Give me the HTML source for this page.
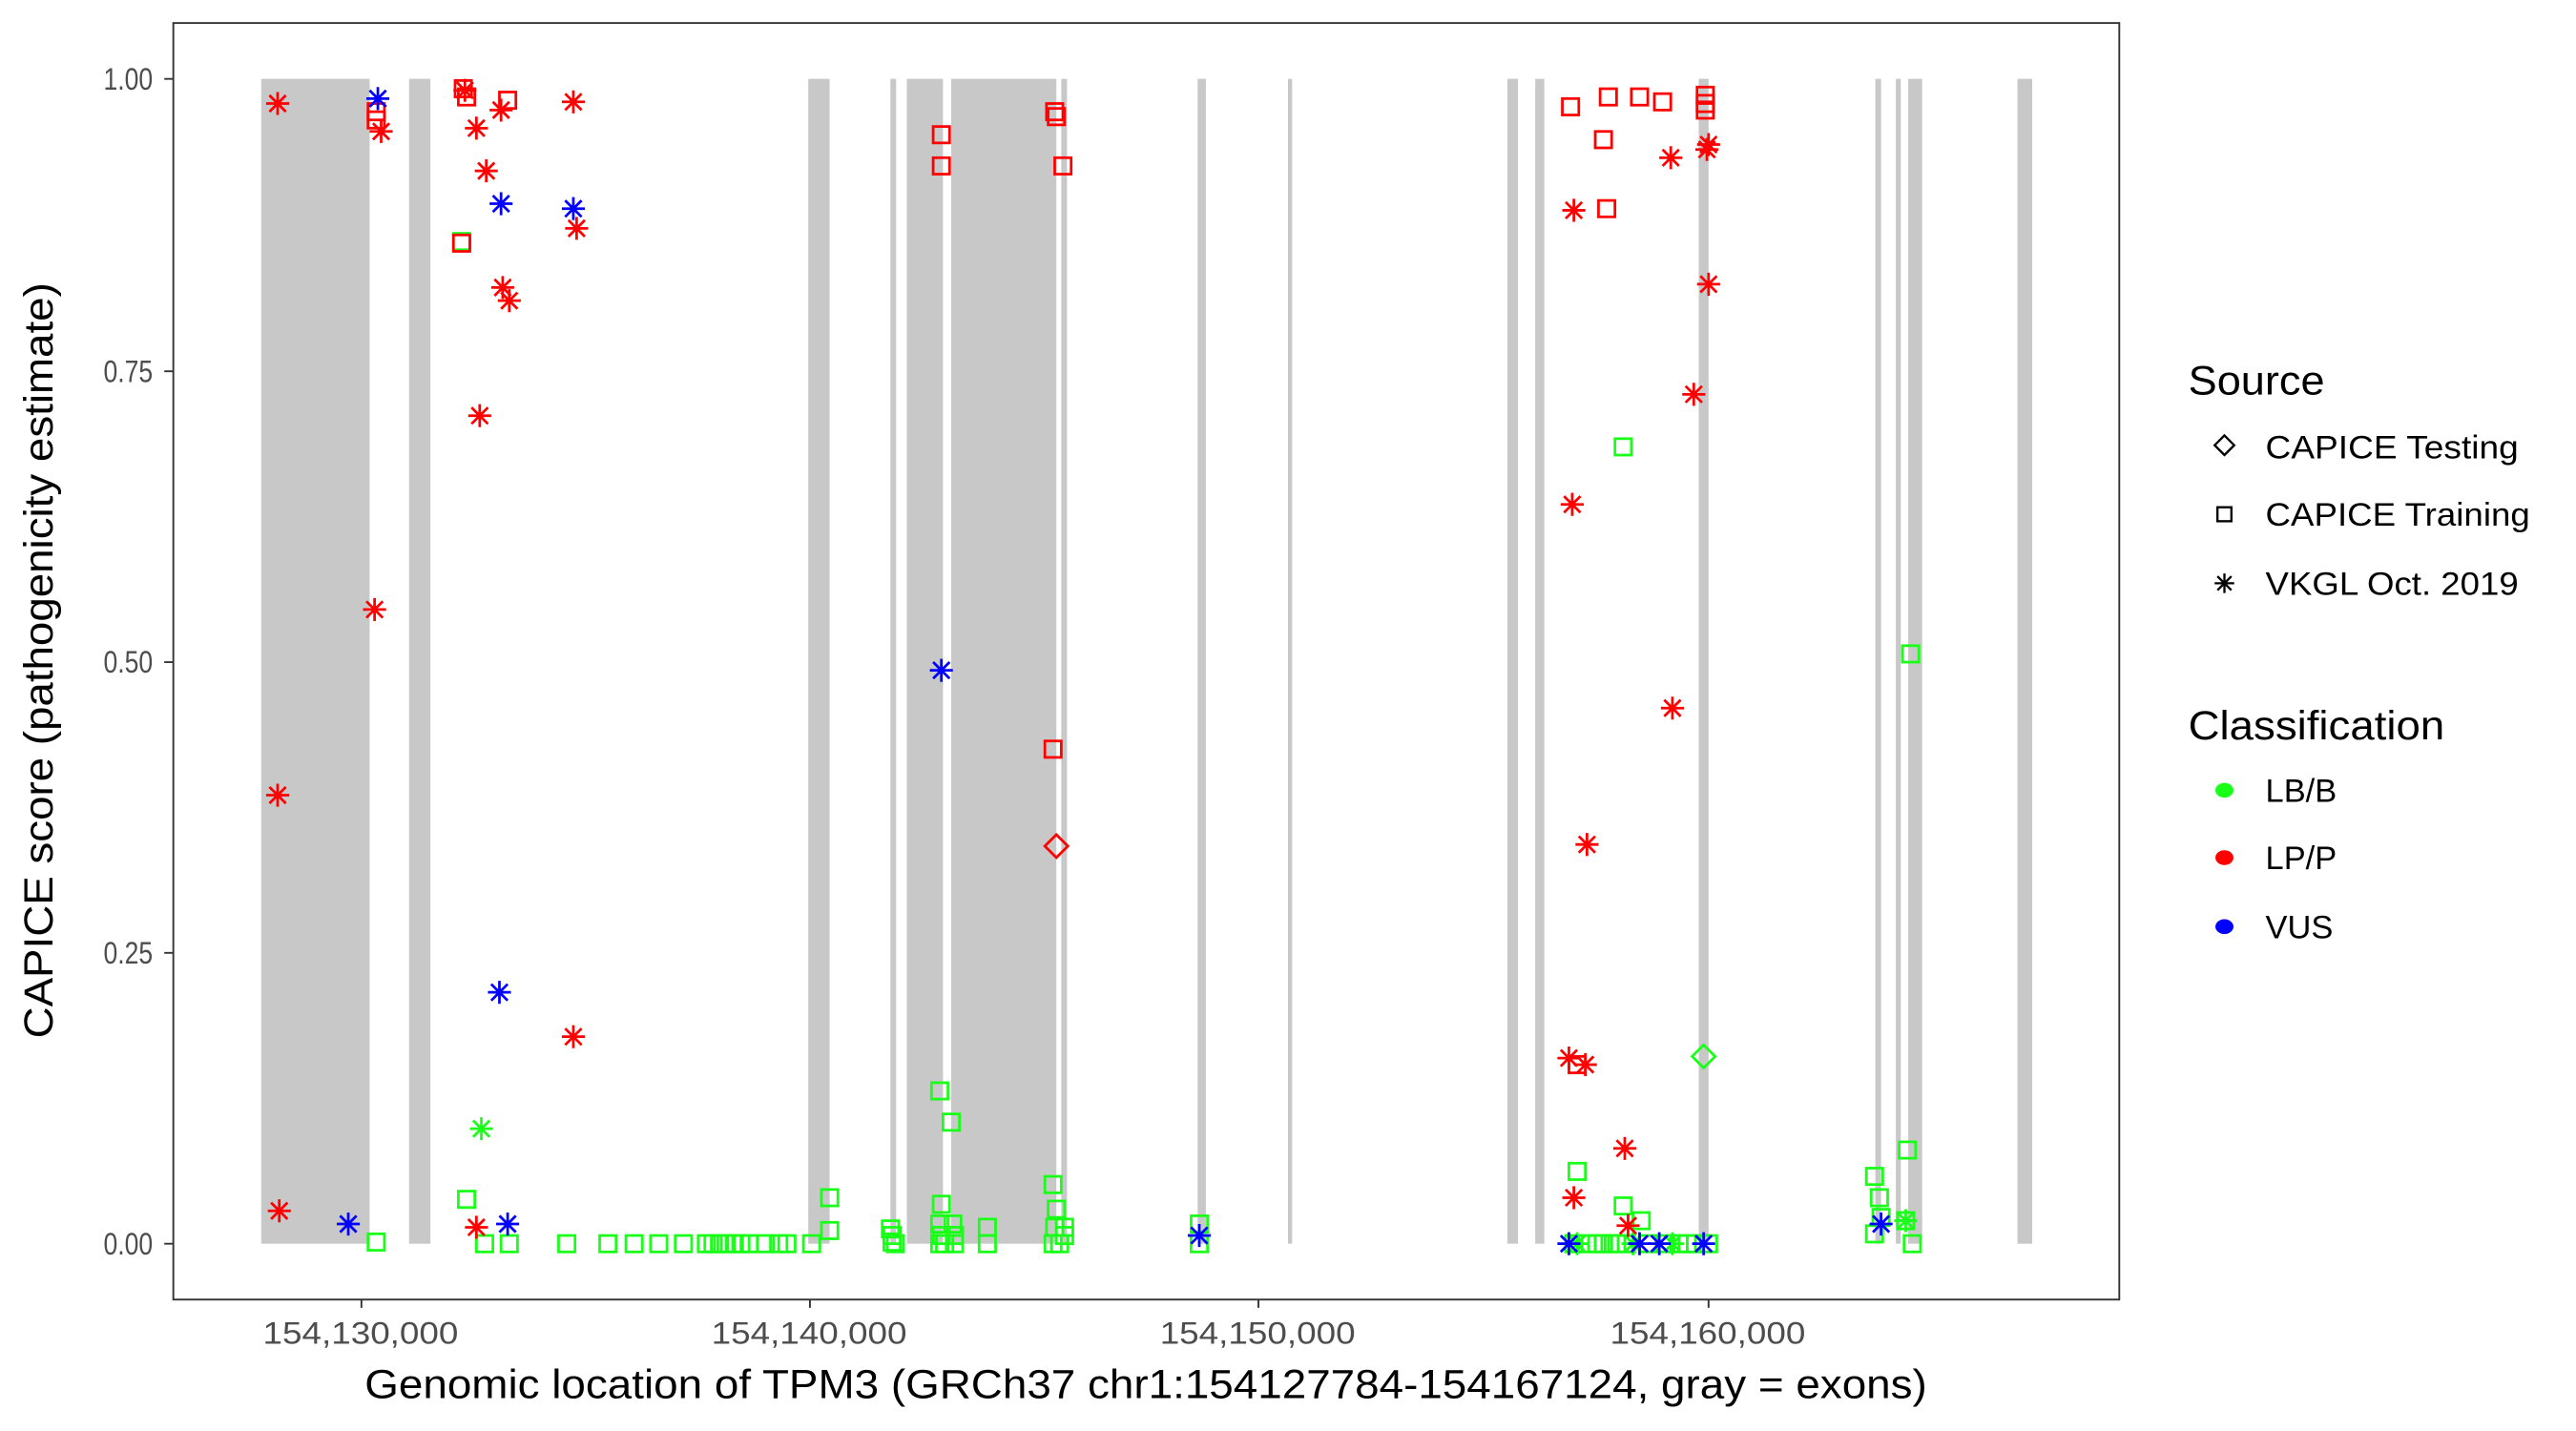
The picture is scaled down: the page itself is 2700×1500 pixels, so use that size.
<!DOCTYPE html>
<html><head><meta charset="utf-8"><style>
html,body{margin:0;padding:0;background:#fff;}
svg{display:block;}
text{font-family:"Liberation Sans",Arial,sans-serif;}
</style></head><body>
<svg width="2700" height="1500" viewBox="0 0 1568 871" preserveAspectRatio="none" xmlns="http://www.w3.org/2000/svg">
<defs>
<g id="a" fill="none" stroke-width="1.6"><path d="M0,-7V7M-7,0H7M-5,-5L5,5M-5,5L5,-5"/></g>
<rect id="s" x="-5" y="-5" width="10" height="10" fill="none" stroke-width="1.6"/>
<path id="d" d="M0,-7L7,0L0,7L-7,0Z" fill="none" stroke-width="1.6"/>
</defs>
<rect x="0" y="0" width="1568" height="871" fill="#fff"/>
<g fill="#c8c8c8">
<rect x="159" y="48" width="66" height="709"/>
<rect x="249" y="48" width="13" height="709"/>
<rect x="492" y="48" width="13" height="709"/>
<rect x="542" y="48" width="3.5" height="709"/>
<rect x="552" y="48" width="22" height="709"/>
<rect x="579" y="48" width="64" height="709"/>
<rect x="646" y="48" width="3.5" height="709"/>
<rect x="729" y="48" width="5" height="709"/>
<rect x="784" y="48" width="2.5" height="709"/>
<rect x="917.5" y="48" width="6.5" height="709"/>
<rect x="934.5" y="48" width="5.5" height="709"/>
<rect x="1034" y="48" width="6" height="709"/>
<rect x="1141.5" y="48" width="3.5" height="709"/>
<rect x="1154" y="48" width="3" height="709"/>
<rect x="1161.5" y="48" width="8.5" height="709"/>
<rect x="1228" y="48" width="9" height="709"/>
</g>
<g>
<use href="#s" x="229" y="756" stroke="#18ff18"/>
<use href="#s" x="281" y="147" stroke="#18ff18"/>
<use href="#a" x="293" y="687" stroke="#18ff18"/>
<use href="#s" x="284" y="730" stroke="#18ff18"/>
<use href="#s" x="295" y="757" stroke="#18ff18"/>
<use href="#s" x="310" y="757" stroke="#18ff18"/>
<use href="#s" x="345" y="757" stroke="#18ff18"/><use href="#s" x="370" y="757" stroke="#18ff18"/><use href="#s" x="386" y="757" stroke="#18ff18"/><use href="#s" x="401" y="757" stroke="#18ff18"/><use href="#s" x="416" y="757" stroke="#18ff18"/><use href="#s" x="430" y="757" stroke="#18ff18"/><use href="#s" x="434" y="757" stroke="#18ff18"/><use href="#s" x="438" y="757" stroke="#18ff18"/><use href="#s" x="442" y="757" stroke="#18ff18"/><use href="#s" x="447" y="757" stroke="#18ff18"/><use href="#s" x="451" y="757" stroke="#18ff18"/><use href="#s" x="456" y="757" stroke="#18ff18"/><use href="#s" x="466" y="757" stroke="#18ff18"/><use href="#s" x="474" y="757" stroke="#18ff18"/><use href="#s" x="479" y="757" stroke="#18ff18"/><use href="#s" x="494" y="757" stroke="#18ff18"/>
<use href="#s" x="505" y="729" stroke="#18ff18"/><use href="#s" x="505" y="749" stroke="#18ff18"/>
<use href="#s" x="542" y="748" stroke="#18ff18"/><use href="#s" x="543" y="752" stroke="#18ff18"/><use href="#s" x="543" y="756" stroke="#18ff18"/><use href="#s" x="545" y="757" stroke="#18ff18"/>
<use href="#s" x="572" y="664" stroke="#18ff18"/><use href="#s" x="579" y="683" stroke="#18ff18"/>
<use href="#s" x="573" y="733" stroke="#18ff18"/><use href="#s" x="572" y="745" stroke="#18ff18"/><use href="#s" x="573" y="752" stroke="#18ff18"/><use href="#s" x="575" y="757" stroke="#18ff18"/><use href="#s" x="580" y="745" stroke="#18ff18"/><use href="#s" x="581" y="752" stroke="#18ff18"/><use href="#s" x="581" y="757" stroke="#18ff18"/><use href="#s" x="572" y="757" stroke="#18ff18"/>
<use href="#s" x="601" y="747" stroke="#18ff18"/><use href="#s" x="601" y="757" stroke="#18ff18"/>
<use href="#s" x="641" y="721" stroke="#18ff18"/><use href="#s" x="643" y="736" stroke="#18ff18"/><use href="#s" x="642" y="747" stroke="#18ff18"/><use href="#s" x="648" y="747" stroke="#18ff18"/><use href="#s" x="648" y="752" stroke="#18ff18"/><use href="#s" x="645" y="757" stroke="#18ff18"/><use href="#s" x="641" y="757" stroke="#18ff18"/>
<use href="#s" x="730" y="745" stroke="#18ff18"/><use href="#s" x="730" y="757" stroke="#18ff18"/>
<use href="#s" x="988" y="272" stroke="#18ff18"/>
<use href="#d" x="1037" y="643" stroke="#18ff18"/>
<use href="#s" x="960" y="713" stroke="#18ff18"/><use href="#s" x="988" y="734" stroke="#18ff18"/><use href="#s" x="999" y="743" stroke="#18ff18"/>
<use href="#s" x="958" y="757" stroke="#18ff18"/><use href="#s" x="966" y="757" stroke="#18ff18"/><use href="#s" x="972" y="757" stroke="#18ff18"/><use href="#s" x="976" y="757" stroke="#18ff18"/><use href="#s" x="980" y="757" stroke="#18ff18"/><use href="#s" x="984" y="757" stroke="#18ff18"/><use href="#s" x="990" y="757" stroke="#18ff18"/><use href="#s" x="1003" y="757" stroke="#18ff18"/><use href="#s" x="1014" y="757" stroke="#18ff18"/><use href="#s" x="1022" y="757" stroke="#18ff18"/><use href="#s" x="1027" y="757" stroke="#18ff18"/><use href="#s" x="1032" y="757" stroke="#18ff18"/><use href="#s" x="1040" y="757" stroke="#18ff18"/>
<use href="#a" x="960" y="757" stroke="#18ff18"/><use href="#a" x="994" y="757" stroke="#18ff18"/><use href="#a" x="1018" y="757" stroke="#18ff18"/>
<use href="#s" x="1141" y="716" stroke="#18ff18"/><use href="#s" x="1144" y="729" stroke="#18ff18"/><use href="#s" x="1145" y="741" stroke="#18ff18"/><use href="#s" x="1141" y="751" stroke="#18ff18"/>
<use href="#s" x="1161" y="700" stroke="#18ff18"/><use href="#s" x="1163" y="398" stroke="#18ff18"/>
<use href="#a" x="1160" y="743" stroke="#18ff18"/><use href="#s" x="1160" y="743" stroke="#18ff18"/><use href="#s" x="1164" y="757" stroke="#18ff18"/>
</g>
<g>
<use href="#a" x="169" y="63" stroke="#ff0000"/>
<use href="#a" x="169" y="484" stroke="#ff0000"/>
<use href="#a" x="170" y="737" stroke="#ff0000"/>
<use href="#s" x="229" y="68" stroke="#ff0000"/><use href="#s" x="229" y="73" stroke="#ff0000"/>
<use href="#a" x="232" y="80" stroke="#ff0000"/>
<use href="#a" x="228" y="371" stroke="#ff0000"/>
<use href="#s" x="282" y="54" stroke="#ff0000"/><use href="#s" x="284" y="59" stroke="#ff0000"/><use href="#a" x="283" y="55" stroke="#ff0000"/>
<use href="#s" x="281" y="148" stroke="#ff0000"/>
<use href="#a" x="290" y="78" stroke="#ff0000"/>
<use href="#a" x="296" y="104" stroke="#ff0000"/>
<use href="#a" x="292" y="253" stroke="#ff0000"/>
<use href="#a" x="305" y="67" stroke="#ff0000"/>
<use href="#s" x="309" y="61" stroke="#ff0000"/>
<use href="#a" x="306" y="175" stroke="#ff0000"/>
<use href="#a" x="310" y="183" stroke="#ff0000"/>
<use href="#a" x="290" y="747" stroke="#ff0000"/>
<use href="#a" x="349" y="62" stroke="#ff0000"/>
<use href="#a" x="351" y="139" stroke="#ff0000"/>
<use href="#a" x="349" y="631" stroke="#ff0000"/>
<use href="#s" x="573" y="82" stroke="#ff0000"/><use href="#s" x="573" y="101" stroke="#ff0000"/>
<use href="#s" x="642" y="68" stroke="#ff0000"/><use href="#s" x="643" y="71" stroke="#ff0000"/><use href="#s" x="647" y="101" stroke="#ff0000"/>
<use href="#s" x="641" y="456" stroke="#ff0000"/>
<use href="#d" x="643" y="515" stroke="#ff0000"/>
<use href="#s" x="956" y="65" stroke="#ff0000"/><use href="#s" x="979" y="59" stroke="#ff0000"/><use href="#s" x="976" y="85" stroke="#ff0000"/><use href="#s" x="978" y="127" stroke="#ff0000"/><use href="#s" x="998" y="59" stroke="#ff0000"/><use href="#s" x="1012" y="62" stroke="#ff0000"/><use href="#s" x="1038" y="58" stroke="#ff0000"/><use href="#s" x="1038" y="63" stroke="#ff0000"/><use href="#s" x="1038" y="67" stroke="#ff0000"/>
<use href="#a" x="958" y="128" stroke="#ff0000"/><use href="#a" x="1017" y="96" stroke="#ff0000"/><use href="#a" x="1040" y="88" stroke="#ff0000"/><use href="#a" x="1039" y="91" stroke="#ff0000"/><use href="#a" x="1040" y="173" stroke="#ff0000"/><use href="#a" x="1031" y="240" stroke="#ff0000"/><use href="#a" x="957" y="307" stroke="#ff0000"/><use href="#a" x="1018" y="431" stroke="#ff0000"/><use href="#a" x="966" y="514" stroke="#ff0000"/><use href="#a" x="955" y="644" stroke="#ff0000"/><use href="#a" x="965" y="648" stroke="#ff0000"/><use href="#s" x="960" y="648" stroke="#ff0000"/><use href="#a" x="989" y="699" stroke="#ff0000"/><use href="#a" x="958" y="729" stroke="#ff0000"/><use href="#a" x="991" y="746" stroke="#ff0000"/>
</g>
<g>
<use href="#a" x="212" y="745" stroke="#0000ff"/>
<use href="#a" x="230" y="60" stroke="#0000ff"/>
<use href="#a" x="305" y="124" stroke="#0000ff"/>
<use href="#a" x="304" y="604" stroke="#0000ff"/>
<use href="#a" x="309" y="745" stroke="#0000ff"/>
<use href="#a" x="349" y="127" stroke="#0000ff"/>
<use href="#a" x="573" y="408" stroke="#0000ff"/>
<use href="#a" x="730" y="752" stroke="#0000ff"/>
<use href="#a" x="955" y="757" stroke="#0000ff"/><use href="#a" x="998" y="757" stroke="#0000ff"/><use href="#a" x="1010" y="757" stroke="#0000ff"/><use href="#a" x="1037" y="757" stroke="#0000ff"/>
<use href="#a" x="1145" y="745" stroke="#0000ff"/>
</g>
<rect x="105.5" y="14" width="1184.5" height="777" fill="none" stroke="#333" stroke-width="1.1"/>
<g stroke="#333" stroke-width="1.1">
<path d="M100,48H105.5M100,226H105.5M100,403H105.5M100,580H105.5M100,757H105.5"/>
<path d="M220,791V796M493,791V796M766,791V796M1040,791V796"/>
</g>
<g fill="#4d4d4d" font-size="19" text-anchor="end">
<text x="93" y="54.5" textLength="30" lengthAdjust="spacingAndGlyphs">1.00</text>
<text x="93" y="232.5" textLength="30" lengthAdjust="spacingAndGlyphs">0.75</text>
<text x="93" y="409.5" textLength="30" lengthAdjust="spacingAndGlyphs">0.50</text>
<text x="93" y="586.5" textLength="30" lengthAdjust="spacingAndGlyphs">0.25</text>
<text x="93" y="763.5" textLength="30" lengthAdjust="spacingAndGlyphs">0.00</text>
</g>
<g fill="#4d4d4d" font-size="19">
<text x="160" y="818" textLength="119" lengthAdjust="spacingAndGlyphs">154,130,000</text>
<text x="433" y="818" textLength="119" lengthAdjust="spacingAndGlyphs">154,140,000</text>
<text x="706" y="818" textLength="119" lengthAdjust="spacingAndGlyphs">154,150,000</text>
<text x="980" y="818" textLength="119" lengthAdjust="spacingAndGlyphs">154,160,000</text>
</g>
<text x="222" y="851" font-size="25" fill="#000" textLength="951" lengthAdjust="spacingAndGlyphs">Genomic location of TPM3 (GRCh37 chr1:154127784-154167124, gray = exons)</text>
<text transform="translate(32,632) rotate(-90)" font-size="25" fill="#000" textLength="460" lengthAdjust="spacingAndGlyphs">CAPICE score (pathogenicity estimate)</text>
<text x="1332" y="240" font-size="25" fill="#000" textLength="83" lengthAdjust="spacingAndGlyphs">Source</text>
<use href="#d" x="1354" y="271" stroke="#000" transform="translate(1354,271) scale(0.85) translate(-1354,-271)"/>
<use href="#s" x="1354" y="313" stroke="#000" transform="translate(1354,313) scale(0.85) translate(-1354,-313)"/>
<use href="#a" x="1354" y="355" stroke="#000" transform="translate(1354,355) scale(0.85) translate(-1354,-355)"/>
<g font-size="20" fill="#000">
<text x="1379" y="279" textLength="154" lengthAdjust="spacingAndGlyphs">CAPICE Testing</text>
<text x="1379" y="320" textLength="161" lengthAdjust="spacingAndGlyphs">CAPICE Training</text>
<text x="1379" y="362" textLength="154" lengthAdjust="spacingAndGlyphs">VKGL Oct. 2019</text>
<text x="1379" y="488">LB/B</text>
<text x="1379" y="529">LP/P</text>
<text x="1379" y="571">VUS</text>
</g>
<text x="1332" y="450" font-size="25" fill="#000" textLength="156" lengthAdjust="spacingAndGlyphs">Classification</text>
<ellipse cx="1354" cy="481" rx="5.5" ry="4.5" fill="#18ff18"/>
<ellipse cx="1354" cy="522" rx="5.5" ry="4.5" fill="#ff0000"/>
<ellipse cx="1354" cy="564" rx="5.5" ry="4.5" fill="#0000ff"/>
</svg>
</body></html>
